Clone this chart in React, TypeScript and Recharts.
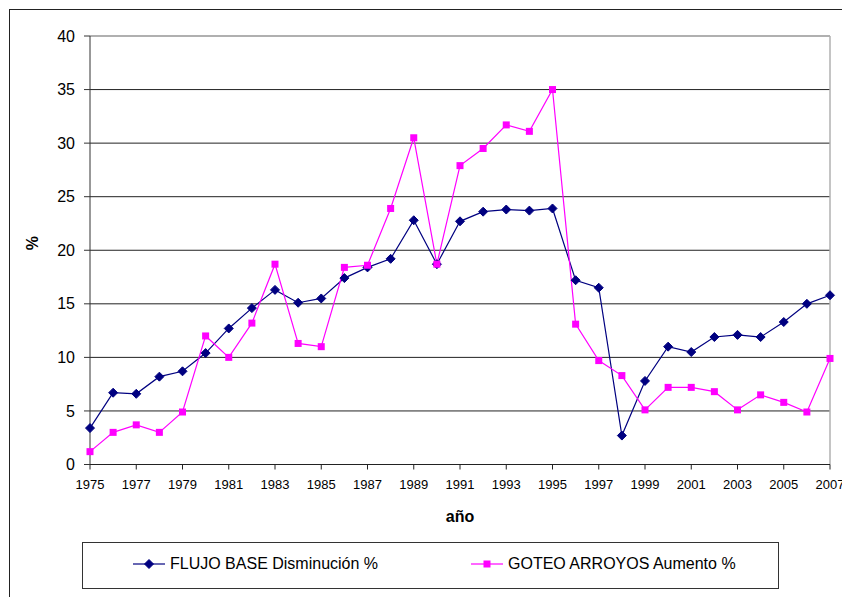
import { LineChart, Line, XAxis, YAxis, CartesianGrid, ReferenceLine } from 'recharts';

const YEARS = [
  1975, 1976, 1977, 1978, 1979, 1980, 1981, 1982, 1983, 1984, 1985,
  1986, 1987, 1988, 1989, 1990, 1991, 1992, 1993, 1994, 1995, 1996,
  1997, 1998, 1999, 2000, 2001, 2002, 2003, 2004, 2005, 2006, 2007,
];

const FLUJO_BASE = [
  3.4, 6.7, 6.6, 8.2, 8.7, 10.4, 12.7, 14.6, 16.3, 15.1, 15.5,
  17.4, 18.4, 19.2, 22.8, 18.7, 22.7, 23.6, 23.8, 23.7, 23.9, 17.2,
  16.5, 2.7, 7.8, 11.0, 10.5, 11.9, 12.1, 11.9, 13.3, 15.0, 15.8,
];

const GOTEO_ARROYOS = [
  1.2, 3.0, 3.7, 3.0, 4.9, 12.0, 10.0, 13.2, 18.7, 11.3, 11.0,
  18.4, 18.6, 23.9, 30.5, 18.7, 27.9, 29.5, 31.7, 31.1, 35.0, 13.1,
  9.7, 8.3, 5.1, 7.2, 7.2, 6.8, 5.1, 6.5, 5.8, 4.9, 9.9,
];

const Y_TICKS = [0, 5, 10, 15, 20, 25, 30, 35, 40];

const SERIES = [
  { key: 'flujo', name: 'FLUJO BASE Disminución %', color: '#000080', marker: 'diamond' },
  { key: 'goteo', name: 'GOTEO ARROYOS Aumento %', color: '#FF00FF', marker: 'square' },
];

const FONT = '"Liberation Sans", Arial, sans-serif';

const data = YEARS.map((year, i) => ({
  year,
  flujo: FLUJO_BASE[i],
  goteo: GOTEO_ARROYOS[i],
}));

function Diamond({ cx, cy, color }: { cx: number; cy: number; color: string }) {
  const r = 4.5;
  return (
    <polygon
      points={`${cx},${cy - r} ${cx + r},${cy} ${cx},${cy + r} ${cx - r},${cy}`}
      fill={color}
      stroke={color}
    />
  );
}

function Square({ cx, cy, color }: { cx: number; cy: number; color: string }) {
  const s = 7;
  return <rect x={cx - s / 2} y={cy - s / 2} width={s} height={s} fill={color} />;
}

function Marker({ kind, cx, cy, color }: { kind: string; cx: number; cy: number; color: string }) {
  return kind === 'diamond' ? <Diamond cx={cx} cy={cy} color={color} /> : <Square cx={cx} cy={cy} color={color} />;
}

// legend drawn outside the chart so it doesn't eat into the plot offset
function LegendBox() {
  const itemLeft = [50, 388];
  return (
    <div
      style={{
        position: 'absolute',
        left: 74,
        top: 534,
        width: 695,
        height: 45,
        border: '1.5px solid #333',
        fontFamily: FONT,
        fontSize: 16,
        color: '#000',
      }}
    >
      {SERIES.map((s, i) => (
        <div
          key={s.key}
          style={{ position: 'absolute', left: itemLeft[i], top: 12, display: 'flex', alignItems: 'center' }}
        >
          <svg width={32} height={12} style={{ marginRight: 5 }}>
            <line x1={0} y1={6} x2={32} y2={6} stroke={s.color} strokeWidth={1.2} />
            <Marker kind={s.marker} cx={16} cy={6} color={s.color} />
          </svg>
          <span>{s.name}</span>
        </div>
      ))}
    </div>
  );
}

export default function App() {
  return (
    <div style={{ position: 'relative', width: 842, height: 589, overflow: 'hidden', background: '#fff' }}>
      <div
        style={{
          position: 'absolute',
          left: 1,
          top: 1,
          width: 900,
          height: 700,
          border: '1.5px solid #222',
        }}
      />
      <div style={{ position: 'absolute', left: 0, top: 0 }}>
        <LineChart
          width={842}
          height={589}
          data={data}
          margin={{ top: 28, right: 20, left: 0, bottom: 102.5 }}
          style={{ overflow: 'visible' }}
        >
          <CartesianGrid vertical={false} stroke="#222" strokeWidth={1} />
          <XAxis
            dataKey="year"
            type="category"
            interval={1}
            height={30}
            stroke="#222"
            tickSize={5}
            tickMargin={10}
            tick={{ fill: '#000', fontSize: 13, fontFamily: FONT }}
            label={{
              value: 'año',
              position: 'bottom',
              offset: 16,
              style: { fill: '#000', fontSize: 16, fontWeight: 'bold', fontFamily: FONT },
            }}
          />
          <YAxis
            domain={[0, 40]}
            ticks={Y_TICKS}
            width={82}
            stroke="#333"
            tickSize={6}
            tickMargin={9}
            tick={{ fill: '#000', fontSize: 16, fontFamily: FONT }}
            label={{
              value: '%',
              angle: -90,
              position: 'insideLeft',
              offset: 24,
              style: { fill: '#000', fontSize: 16, fontWeight: 'bold', fontFamily: FONT },
            }}
          />
          <ReferenceLine y={40} stroke="#b0b0b0" strokeWidth={2} />
          <ReferenceLine x={2007} stroke="#b0b0b0" strokeWidth={1.5} />
          {SERIES.map((s) => (
            <Line
              key={s.key}
              dataKey={s.key}
              name={s.name}
              type="linear"
              stroke={s.color}
              strokeWidth={1.2}
              isAnimationActive={false}
              dot={(p: any) => (
                <Marker key={`${s.key}-${p.index}`} kind={s.marker} cx={p.cx} cy={p.cy} color={s.color} />
              )}
              activeDot={false}
            />
          ))}
        </LineChart>
      </div>
      <LegendBox />
    </div>
  );
}
